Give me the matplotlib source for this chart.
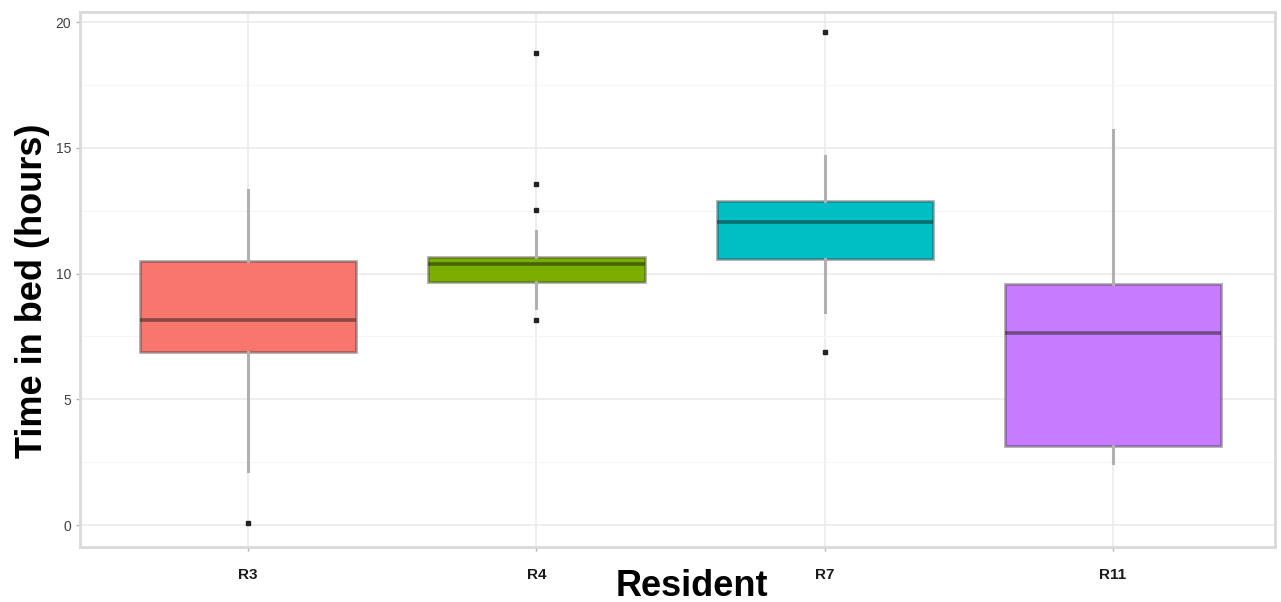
import matplotlib.pyplot as plt

plt.rcParams['font.family'] = ['Liberation Sans', 'DejaVu Sans']

residents = ['R3', 'R4', 'R7', 'R11']
colors = ['#F8766D', '#7CAE00', '#00BFC4', '#C77CFF']

q1 = [6.87, 9.67, 10.6, 3.14]
med = [8.15, 10.4, 12.06, 7.65]
q3 = [10.49, 10.66, 12.88, 9.58]
whislo = [2.15, 8.62, 8.47, 2.46]
whishi = [13.33, 11.71, 14.67, 15.7]
outliers = [[0.08], [18.76, 13.56, 12.54, 8.15], [19.62, 6.9], []]

stats = []
for i in range(len(residents)):
    stats.append(dict(label=residents[i], q1=q1[i], med=med[i], q3=q3[i],
                      whislo=whislo[i], whishi=whishi[i], fliers=outliers[i]))

fig = plt.figure(figsize=(12.81, 6.02), dpi=100)
ax = fig.add_axes([0.0625, 0.0914, 0.9328, 0.8886])

ax.set_axisbelow(True)
ax.set_yticks([2.5, 7.5, 12.5, 17.5], minor=True)
ax.grid(True, which='major', color='#ebebeb', linewidth=1.2)
ax.grid(True, which='minor', axis='y', color='#f5f5f5', linewidth=0.8)

bp = ax.bxp(stats, positions=range(1, 5), widths=0.75, patch_artist=True,
            showcaps=False,
            boxprops=dict(edgecolor=(0.2, 0.2, 0.2, 0.4), linewidth=2),
            medianprops=dict(color=(0.1, 0.1, 0.1, 0.5), linewidth=2.6),
            whiskerprops=dict(color='#b0b0b0', linewidth=2.2),
            flierprops=dict(marker='s', markersize=3.5, markerfacecolor='#222222',
                            markeredgecolor='#222222'))
for patch, c in zip(bp['boxes'], colors):
    patch.set_facecolor(c)

ax.set_xlim(0.417, 4.562)
ax.set_ylim(-0.87, 20.4)
ax.set_yticks([0, 5, 10, 15, 20])
ax.set_xticks(range(1, 5))
ax.set_xticklabels(residents, fontsize=11, fontweight='bold', color='#1a1a1a')
ax.tick_params(axis='y', labelsize=10, labelcolor='#404040', colors='#b3b3b3',
               length=3, width=1)
ax.tick_params(axis='x', colors='#b3b3b3', length=3, width=1, labelcolor='#1a1a1a',
               pad=12)
ax.tick_params(axis='y', which='minor', length=0)
for sp in ax.spines.values():
    sp.set_color('#d9d9d9')
    sp.set_linewidth(2)

ax.set_ylabel('Time in bed (hours)', fontsize=26, fontweight='bold')
ax.yaxis.set_label_coords(-0.025, 0.478)
ax.set_xlabel('Resident', fontsize=26, fontweight='bold')
ax.xaxis.set_label_coords(0.512, -0.041)

fig.savefig('out.png', dpi=100, facecolor='white')
